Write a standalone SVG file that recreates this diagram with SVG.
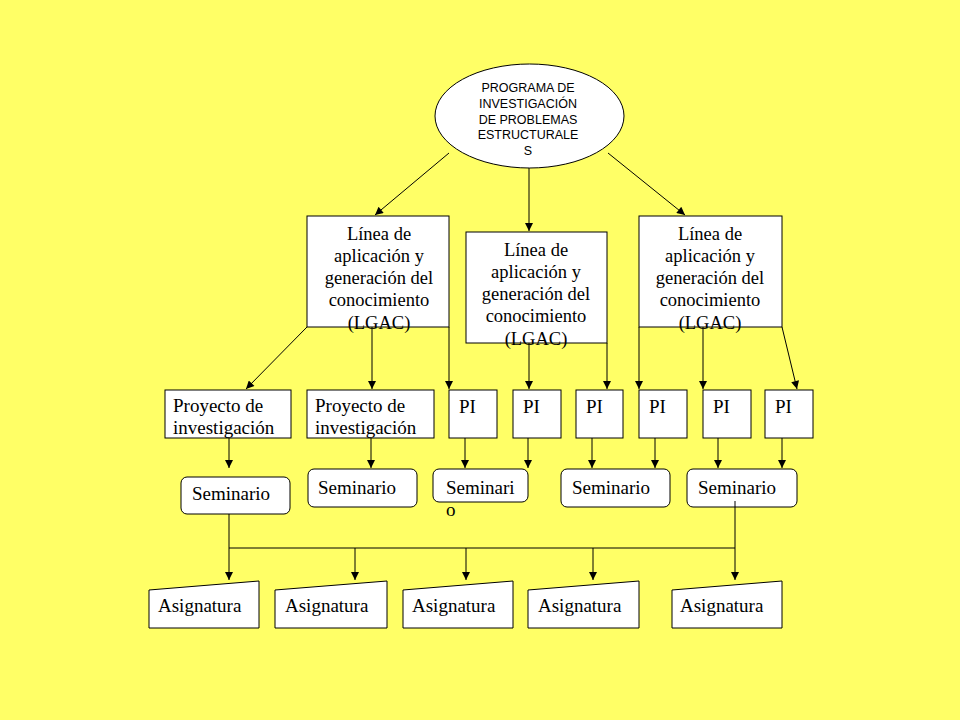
<svg xmlns="http://www.w3.org/2000/svg" width="960" height="720" viewBox="0 0 960 720">
<defs>
<marker id="ah" viewBox="0 0 10 10" refX="10" refY="5" markerWidth="10" markerHeight="8" markerUnits="userSpaceOnUse" orient="auto">
<path d="M0,0 L10,5 L0,10 z" fill="#000"/>
</marker>
<style>
.box{fill:#fff;stroke:#000;stroke-width:1}
.t{font-family:"Liberation Serif","Times New Roman",serif;font-size:19px;fill:#000}
.tc{font-family:"Liberation Serif","Times New Roman",serif;font-size:18.5px;fill:#000;text-anchor:middle}
.ta{font-family:"Liberation Sans",Arial,sans-serif;font-size:12.5px;fill:#000;text-anchor:middle}
.c{fill:none;stroke:#000;stroke-width:1}
.a{fill:none;stroke:#000;stroke-width:1;marker-end:url(#ah)}
</style>
</defs>
<rect x="0" y="0" width="960" height="720" fill="#FFFF66"/>

<g id="programa">
<ellipse class="box" cx="529.5" cy="116" rx="94.5" ry="52"/>
<text class="ta" x="528" y="92">PROGRAMA DE</text>
<text class="ta" x="528" y="108">INVESTIGACIÓN</text>
<text class="ta" x="528" y="124">DE PROBLEMAS</text>
<text class="ta" x="528" y="139">ESTRUCTURALE</text>
<text class="ta" x="528" y="155">S</text>
</g>

<g id="lgac1">
<rect class="box" x="307" y="216" width="142" height="111"/>
<text class="tc" x="379" y="240">Línea de</text>
<text class="tc" x="379" y="262">aplicación y</text>
<text class="tc" x="379" y="284">generación del</text>
<text class="tc" x="379" y="306">conocimiento</text>
<text class="tc" x="379" y="329">(LGAC)</text>
</g>
<g id="lgac2">
<rect class="box" x="466" y="232" width="141" height="111"/>
<text class="tc" x="536" y="256">Línea de</text>
<text class="tc" x="536" y="278">aplicación y</text>
<text class="tc" x="536" y="300">generación del</text>
<text class="tc" x="536" y="322">conocimiento</text>
<text class="tc" x="536" y="345">(LGAC)</text>
</g>
<g id="lgac3">
<rect class="box" x="639" y="216" width="143" height="111"/>
<text class="tc" x="710" y="240">Línea de</text>
<text class="tc" x="710" y="262">aplicación y</text>
<text class="tc" x="710" y="284">generación del</text>
<text class="tc" x="710" y="306">conocimiento</text>
<text class="tc" x="710" y="329">(LGAC)</text>
</g>

<g id="proyecto1">
<rect class="box" x="165" y="390" width="126" height="48"/>
<text class="t" x="173" y="412">Proyecto de</text>
<text class="t" x="173" y="434">investigación</text>
</g>
<g id="proyecto2">
<rect class="box" x="307" y="390" width="127" height="48"/>
<text class="t" x="315" y="412">Proyecto de</text>
<text class="t" x="315" y="434">investigación</text>
</g>
<g id="pi1"><rect class="box" x="449" y="390" width="48" height="48"/><text class="t" x="459" y="413">PI</text></g>
<g id="pi2"><rect class="box" x="513" y="390" width="48" height="48"/><text class="t" x="523" y="413">PI</text></g>
<g id="pi3"><rect class="box" x="576" y="390" width="47" height="48"/><text class="t" x="586" y="413">PI</text></g>
<g id="pi4"><rect class="box" x="639" y="390" width="48" height="48"/><text class="t" x="649" y="413">PI</text></g>
<g id="pi5"><rect class="box" x="703" y="390" width="48" height="48"/><text class="t" x="713" y="413">PI</text></g>
<g id="pi6"><rect class="box" x="765" y="390" width="48" height="48"/><text class="t" x="775" y="413">PI</text></g>

<g id="seminario1"><rect class="box" x="181" y="477" width="109" height="37" rx="6"/><text class="t" x="192" y="500">Seminario</text></g>
<g id="seminario2"><rect class="box" x="308" y="469" width="109" height="38" rx="6"/><text class="t" x="318" y="494">Seminario</text></g>
<g id="seminario3"><rect class="box" x="433" y="469" width="95" height="33" rx="6"/><text class="t" x="446" y="494">Seminari</text><text class="t" x="446" y="516">o</text></g>
<g id="seminario4"><rect class="box" x="561" y="469" width="109" height="38" rx="6"/><text class="t" x="572" y="494">Seminario</text></g>
<g id="seminario5"><rect class="box" x="687" y="469" width="110" height="38" rx="6"/><text class="t" x="698" y="494">Seminario</text></g>

<g id="asignatura1"><path class="box" d="M149,590 L259,581 L259,628 L149,628 Z"/><text class="t" x="158" y="612">Asignatura</text></g>
<g id="asignatura2"><path class="box" d="M275,590 L387,581 L387,628 L275,628 Z"/><text class="t" x="285" y="612">Asignatura</text></g>
<g id="asignatura3"><path class="box" d="M403,590 L513,581 L513,628 L403,628 Z"/><text class="t" x="412" y="612">Asignatura</text></g>
<g id="asignatura4"><path class="box" d="M528,590 L639,581 L639,628 L528,628 Z"/><text class="t" x="538" y="612">Asignatura</text></g>
<g id="asignatura5"><path class="box" d="M672,590 L782,581 L782,628 L672,628 Z"/><text class="t" x="680" y="612">Asignatura</text></g>

<g id="connectors">
<line class="a" x1="449" y1="153" x2="375" y2="215"/>
<line class="a" x1="529" y1="168" x2="529" y2="231"/>
<line class="a" x1="608" y1="153" x2="685" y2="215"/>

<line class="a" x1="307" y1="327" x2="246" y2="389"/>
<line class="a" x1="372" y1="327" x2="372" y2="389"/>
<line class="a" x1="449" y1="327" x2="449" y2="389"/>
<line class="a" x1="529" y1="343" x2="529" y2="389"/>
<line class="a" x1="607" y1="343" x2="607" y2="389"/>
<line class="a" x1="639" y1="327" x2="639" y2="389"/>
<line class="a" x1="703" y1="327" x2="703" y2="389"/>
<line class="a" x1="782" y1="327" x2="797" y2="389"/>

<line class="a" x1="229" y1="438" x2="229" y2="468"/>
<line class="a" x1="371" y1="438" x2="371" y2="468"/>
<line class="a" x1="465" y1="438" x2="465" y2="468"/>
<line class="a" x1="528" y1="438" x2="528" y2="468"/>
<line class="a" x1="592" y1="438" x2="592" y2="468"/>
<line class="a" x1="655" y1="438" x2="655" y2="468"/>
<line class="a" x1="718" y1="438" x2="718" y2="468"/>
<line class="a" x1="782" y1="438" x2="782" y2="468"/>

<line class="c" x1="229" y1="548" x2="735" y2="548"/>
<line class="a" x1="229" y1="514" x2="229" y2="580"/>
<line class="a" x1="735" y1="501" x2="735" y2="580"/>
<line class="a" x1="355" y1="548" x2="355" y2="580"/>
<line class="a" x1="466" y1="548" x2="466" y2="580"/>
<line class="a" x1="593" y1="548" x2="593" y2="580"/>
</g>
</svg>
